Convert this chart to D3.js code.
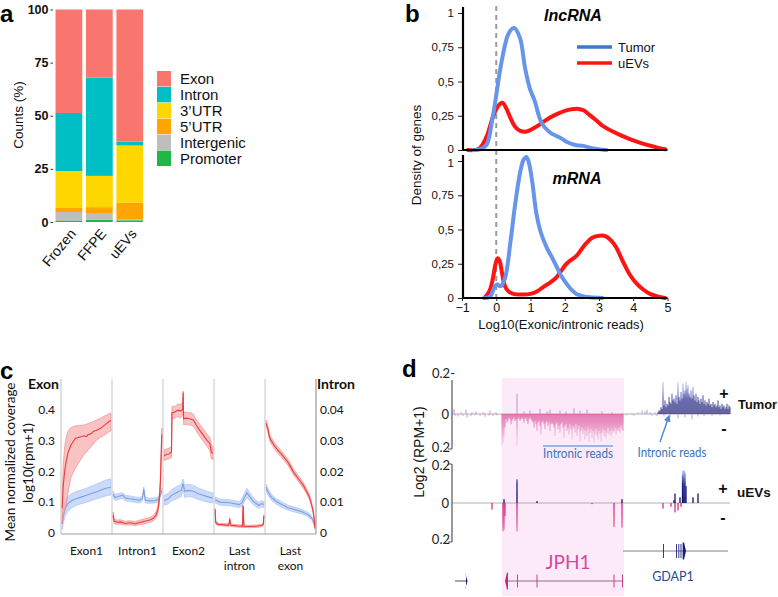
<!DOCTYPE html>
<html><head><meta charset="utf-8">
<script src="https://cdn.jsdelivr.net/npm/d3@7/dist/d3.min.js"></script>
<style>html,body{margin:0;padding:0;background:#fff;}svg{display:block;}</style>
</head><body>
<svg id="fig" width="778" height="597" xmlns="http://www.w3.org/2000/svg"></svg>
<script>
// ================= DATA =================
// ---- Panel a
const aCategories = ["Frozen", "FFPE", "uEVs"];
const aKeys = ["Promoter", "Intergenic", "5’UTR", "3’UTR", "Intron", "Exon"];
const aPromoter = [0.7, 1.0, 0.8];
const aIntergenic = [4.0, 2.9, 0.3];
const a5UTR = [1.9, 3.1, 8.0];
const a3UTR = [17.4, 14.7, 26.9];
const aIntron = [27.3, 46.3, 1.8];
const aExon = [48.7, 32.0, 62.2];
const aColors = ["#1DB848", "#BEBEBE", "#FFA500", "#FFD700", "#00BFC4", "#F8766D"];
const aYTicks = [0, 25, 50, 75, 100];
const aLegendOrder = ["Exon", "Intron", "3’UTR", "5’UTR", "Intergenic", "Promoter"];

// ---- Panel b
const bXTicks = [-1, 0, 1, 2, 3, 4, 5];
const bYTickValues = [0, 0.25, 0.5, 0.75, 1];
const bYTickLabels = ["0", "0,25", "0,5", "0,75", "1"];
const bLncTumorX = [-0.67,-0.48,-0.28,-0.13,0,0.16,0.36,0.52,0.69,0.84,0.98,1.12,1.32,1.56,1.9,2.05,2.34,2.54,2.83,3.22];
const bLncTumorY = [0,0.005,0.04,0.2,0.4,0.65,0.85,0.89,0.82,0.6,0.45,0.36,0.2,0.13,0.085,0.06,0.035,0.03,0.012,0];
const bLncEvX = [-0.83,-0.5,-0.28,-0.1,0.05,0.18,0.3,0.42,0.55,0.7,0.89,1.1,1.35,1.56,1.8,2.0,2.2,2.39,2.55,2.73,2.95,3.12,3.4,3.71,4.0,4.3,4.6,4.93];
const bLncEvY = [0,0.01,0.1,0.24,0.32,0.345,0.3,0.23,0.17,0.14,0.135,0.16,0.2,0.235,0.265,0.285,0.297,0.3,0.29,0.255,0.21,0.175,0.135,0.1,0.07,0.045,0.025,0.005];
const bMrnaTumorX = [-0.35,-0.18,-0.05,0.03,0.12,0.25,0.42,0.55,0.7,0.8,0.88,0.95,1.05,1.17,1.3,1.47,1.62,1.76,1.9,2.05,2.2,2.34,2.55,2.73,3.1];
const bMrnaTumorY = [0,0.01,0.08,0.1,0.085,0.14,0.42,0.68,0.92,1.01,1.03,0.99,0.85,0.62,0.48,0.37,0.3,0.23,0.16,0.105,0.06,0.03,0.012,0.005,0];
const bMrnaEvX = [-0.35,-0.2,-0.1,-0.02,0.04,0.1,0.17,0.25,0.35,0.5,0.7,1.0,1.2,1.37,1.56,1.76,1.9,2.05,2.2,2.35,2.5,2.63,2.8,3.02,3.2,3.35,3.5,3.71,3.9,4.1,4.3,4.49,4.7,4.93];
const bMrnaEvY = [0,0.05,0.14,0.25,0.29,0.27,0.18,0.09,0.05,0.03,0.025,0.03,0.05,0.08,0.11,0.15,0.2,0.25,0.28,0.31,0.36,0.4,0.44,0.455,0.45,0.42,0.37,0.26,0.17,0.105,0.06,0.03,0.012,0];

// ---- Panel c  (rows: [t within segment, mean, lower, upper]); exon segments on left axis, intron on right
const cSegments = ["Exon1", "Intron1", "Exon2", "Last intron", "Last exon"];
const cSegAxis = ["L", "R", "L", "R", "L"];
const cLeftTicks = [0, 0.1, 0.2, 0.3, 0.4];
const cRightTicks = [0, 0.01, 0.02, 0.03, 0.04];
const cRedExon1 = [[0,0.08,0.03,0.12],[0.02,0.15,0.05,0.22],[0.05,0.2,0.07,0.28],[0.08,0.23,0.09,0.31],[0.12,0.26,0.13,0.33],[0.18,0.285,0.18,0.342],[0.27,0.306,0.21,0.347],[0.35,0.31,0.23,0.348],[0.45,0.315,0.255,0.35],[0.5,0.312,0.262,0.352],[0.53,0.318,0.269,0.355],[0.6,0.322,0.28,0.358],[0.65,0.33,0.29,0.362],[0.7,0.332,0.3,0.366],[0.79,0.339,0.31,0.372],[0.88,0.35,0.318,0.38],[0.97,0.362,0.328,0.387],[1,0.364,0.33,0.388]];
const cRedIntron1 = [[0,0.0058,0.005,0.0068],[0.02,0.0038,0.003,0.0045],[0.08,0.0035,0.0028,0.0042],[0.15,0.0036,0.0029,0.0043],[0.25,0.0031,0.0025,0.0038],[0.35,0.0033,0.0026,0.004],[0.45,0.003,0.0024,0.0037],[0.55,0.0034,0.0027,0.0042],[0.65,0.0038,0.003,0.0046],[0.75,0.0042,0.0034,0.005],[0.82,0.0047,0.0038,0.0056],[0.88,0.0058,0.0048,0.0068],[0.92,0.0075,0.0065,0.0088],[0.95,0.011,0.0098,0.0125],[0.97,0.016,0.014,0.018],[0.985,0.024,0.022,0.026],[1,0.032,0.03,0.034]];
const cRedExon2 = [[0,0.25,0.235,0.27],[0.05,0.255,0.238,0.272],[0.1,0.256,0.24,0.275],[0.15,0.262,0.245,0.28],[0.16,0.39,0.37,0.41],[0.22,0.392,0.372,0.41],[0.28,0.398,0.378,0.418],[0.33,0.395,0.372,0.415],[0.38,0.4,0.38,0.425],[0.39,0.455,0.44,0.46],[0.4,0.37,0.35,0.39],[0.45,0.372,0.352,0.392],[0.52,0.37,0.35,0.39],[0.6,0.366,0.346,0.385],[0.65,0.352,0.333,0.37],[0.72,0.335,0.315,0.355],[0.8,0.318,0.298,0.338],[0.88,0.3,0.28,0.32],[0.94,0.29,0.268,0.31],[0.97,0.262,0.24,0.285],[1,0.258,0.238,0.28]];
const cRedLastIntron = [[0,0.0075,0.007,0.008],[0.01,0.0035,0.003,0.004],[0.05,0.0028,0.0024,0.0032],[0.15,0.0027,0.0023,0.0031],[0.28,0.0025,0.0021,0.0029],[0.3,0.0045,0.004,0.005],[0.32,0.0025,0.0021,0.0029],[0.45,0.0023,0.0019,0.0027],[0.56,0.0022,0.0018,0.0026],[0.575,0.0088,0.0085,0.009],[0.59,0.0022,0.0018,0.0026],[0.7,0.0021,0.0017,0.0025],[0.85,0.0022,0.0018,0.0026],[0.95,0.0024,0.002,0.0028],[0.99,0.0028,0.0024,0.0032],[1,0.0055,0.005,0.006]];
const cRedLastExon = [[0,0.355,0.345,0.365],[0.03,0.34,0.33,0.35],[0.07,0.31,0.3,0.32],[0.1,0.3,0.29,0.31],[0.16,0.285,0.275,0.295],[0.23,0.27,0.26,0.28],[0.3,0.258,0.248,0.268],[0.43,0.233,0.223,0.243],[0.5,0.215,0.205,0.225],[0.56,0.198,0.188,0.208],[0.62,0.185,0.176,0.195],[0.69,0.17,0.161,0.18],[0.76,0.155,0.146,0.164],[0.82,0.138,0.13,0.147],[0.88,0.12,0.112,0.128],[0.92,0.1,0.093,0.108],[0.96,0.075,0.068,0.082],[0.99,0.045,0.04,0.05],[1,0.02,0.016,0.024]];
const cBlueExon1 = [[0,0.03,0.01,0.05],[0.02,0.055,0.03,0.08],[0.06,0.08,0.055,0.1],[0.12,0.095,0.07,0.118],[0.2,0.105,0.082,0.128],[0.3,0.112,0.09,0.135],[0.4,0.117,0.095,0.14],[0.5,0.122,0.1,0.145],[0.6,0.128,0.105,0.152],[0.7,0.133,0.11,0.158],[0.8,0.139,0.115,0.165],[0.9,0.145,0.12,0.172],[1,0.148,0.123,0.175]];
const cBlueIntron1 = [[0,0.0125,0.0115,0.0135],[0.04,0.0115,0.0105,0.0125],[0.1,0.0118,0.0108,0.0128],[0.2,0.0122,0.0112,0.013],[0.25,0.0113,0.0104,0.0122],[0.35,0.0111,0.0102,0.012],[0.45,0.0108,0.0099,0.0117],[0.55,0.0106,0.0097,0.0115],[0.6,0.0112,0.0103,0.012],[0.63,0.0142,0.0135,0.015],[0.66,0.0106,0.0097,0.0115],[0.75,0.0104,0.0096,0.0113],[0.85,0.0105,0.0097,0.0114],[0.93,0.0108,0.01,0.0117],[0.97,0.0125,0.0117,0.0133],[1,0.0138,0.013,0.0146]];
const cBlueExon2 = [[0,0.105,0.09,0.122],[0.08,0.11,0.094,0.128],[0.15,0.122,0.104,0.14],[0.25,0.13,0.11,0.15],[0.35,0.138,0.118,0.158],[0.39,0.16,0.14,0.175],[0.42,0.135,0.115,0.155],[0.5,0.138,0.118,0.158],[0.6,0.135,0.115,0.155],[0.7,0.127,0.108,0.146],[0.8,0.122,0.104,0.14],[0.9,0.117,0.1,0.134],[1,0.113,0.097,0.13]];
const cBlueLastIntron = [[0,0.0107,0.0097,0.0117],[0.1,0.01,0.009,0.011],[0.3,0.0098,0.0088,0.0108],[0.5,0.0092,0.0082,0.0102],[0.55,0.0098,0.0086,0.011],[0.6,0.0115,0.0101,0.0129],[0.65,0.013,0.0115,0.0145],[0.7,0.012,0.0106,0.0134],[0.78,0.0103,0.0092,0.0114],[0.9,0.0089,0.0079,0.0099],[0.95,0.0095,0.0085,0.0105],[1,0.0092,0.0082,0.0102]];
const cBlueLastExon = [[0,0.148,0.138,0.158],[0.03,0.135,0.125,0.145],[0.1,0.117,0.107,0.127],[0.2,0.103,0.094,0.112],[0.3,0.094,0.085,0.103],[0.45,0.082,0.074,0.09],[0.6,0.075,0.067,0.083],[0.75,0.068,0.061,0.076],[0.88,0.058,0.051,0.065],[0.95,0.045,0.039,0.051],[0.99,0.028,0.023,0.033],[1,0.015,0.011,0.019]];
const cRed = [cRedExon1, cRedIntron1, cRedExon2, cRedLastIntron, cRedLastExon];
const cBlue = [cBlueExon1, cBlueIntron1, cBlueExon2, cBlueLastIntron, cBlueLastExon];

// ---- Panel d  (genomic positions in arbitrary kb units, values in log2(RPM+1))
const dDomain = [0, 278];
const dJph1Region = [49.7, 172];
const dTumorMinusStart = 50;
const dTumorMinus = [0.19,0.17,0.13,0.08,
 0.03,0.05,0.04,0.02,0.03,0.06,0.04,0.03,0.02,0.04,0.03,
 0.19,
 0.03,0.02,0.04,0.03,0.02,0.03,0.05,0.03,0.02,0.04,0.06,0.03,0.02,0.03,0.04,
 0.05,0.08,0.04,0.06,0.10,0.05,0.04,0.07,0.12,0.05,0.04,0.06,0.09,0.05,0.04,0.07,0.05,0.10,0.06,0.05,
 0.06,0.08,0.13,0.06,0.05,0.09,0.07,0.11,0.06,0.05,0.08,0.14,0.07,0.06,0.10,0.08,0.12,0.06,0.09,0.15,0.07,0.08,0.11,0.06,0.13,0.09,0.07,0.16,0.10,0.08,
 0.12,0.09,0.15,0.10,0.13,0.08,0.16,0.11,0.09,0.14,0.10,0.17,0.12,0.09,0.13,0.15,0.10,0.12,0.16,0.11,0.09,0.13,0.10,0.14,0.11,0.08,0.12,0.10,0.13,0.09,0.11,0.10,0.08,0.12,0.09,0.10,0.08,0.11,0.07,0.09,0.10];
const dTumorPlusStart = 206;
const dTumorPlus = [0.01,0.02,0.02,0.04,0.03,0.19,0.05,0.08,0.04,0.06,
 0.05,0.10,0.07,0.06,0.12,0.08,0.09,0.07,0.11,0.06,0.19,0.10,0.08,0.13,0.09,
 0.18,0.12,0.14,0.19,0.15,0.17,0.12,0.10,0.14,0.09,0.16,0.11,0.08,0.12,0.07,
 0.10,0.08,0.06,0.09,0.07,0.11,0.06,0.08,0.05,0.07,0.06,0.09,0.05,0.06,0.04,
 0.07,0.05,0.06,0.04,0.05,0.08,0.04,0.05,0.03,0.06,0.04,0.05,0.03,0.04,0.06,0.03,0.05,0.04];
const dTumorPlusSparse = [[2,0.03],[9,0.01],[14,0.025],[20,0.01],[24,0.015],[31,0.01],[38,0.02],[44,0.01],[65,0.12],[72,0.015],[78,0.02],[88,0.03],[95,0.015],[98,0.025],[108,0.02],[114,0.015],[122,0.035],[128,0.02],[135,0.025],[150,0.015],[160,0.01],[180,0.006],[186,0.01],[190,0.02],[193,0.015],[195,0.025],[198,0.01],[203,0.01]];
const dTumorMinusSparse = [[3,0.01],[6,0.015],[11,0.01],[15,0.02],[19,0.012],[23,0.008],[28,0.01],[33,0.015],[37,0.01],[41,0.012],[45,0.008],[175,0.008],[182,0.01],[200,0.01],[205,0.012],[212,0.015],[218,0.02],[226,0.025],[233,0.02],[240,0.03],[246,0.015],[252,0.012],[260,0.01],[268,0.008]];
const dEvPlus = [[52,0.02],[65,0.125],[85,0.01],[170,0.02],[222,0.015],[223,0.05],[228,0.03],[230.5,0.15],[231,0.17],[232,0.17],[233,0.16],[234,0.09],[241,0.03],[246,0.05]];
const dEvMinus = [[40,0.035],[51,0.15],[52,0.14],[53,0.07],[65,0.15],[140,0.006],[162,0.127],[170,0.13],[211,0.03],[219,0.02],[223,0.05],[226,0.04],[229,0.02]];
const dJph1Span = [53, 171];
const dJph1Exons = [[53, 56], [65, 66], [84.5, 85.5], [161.5, 162.5], [170, 171]];
const dGdap1Span = [171, 276];
const dGdap1Exons = [[211, 212], [224, 224.8], [226.3, 227], [228.5, 229.3], [230.7, 234]];
const dLeftGeneSpan = [3, 15];
const dLeftGeneExons = [[14, 15.5]];

// ================= DRAW =================
const SANS = "'Liberation Sans', Arial, Helvetica, sans-serif";
const CAL = "Lato, 'Open Sans', sans-serif";
const svg = d3.select("#fig");
svg.append("rect").attr("width", 778).attr("height", 597).attr("fill", "#fff");
const defs = svg.append("defs");

function panelLabel(t, x, y) {
  svg.append("text").attr("x", x).attr("y", y).text(t)
    .attr("font-family", SANS).attr("font-weight", "bold").attr("font-size", 24).attr("fill", "#000");
}

// ---------- Panel a ----------
{
  const g = svg.append("g");
  const rows = aCategories.map((c, i) => ({
    cat: c, "Promoter": aPromoter[i], "Intergenic": aIntergenic[i], "5’UTR": a5UTR[i],
    "3’UTR": a3UTR[i], "Intron": aIntron[i], "Exon": aExon[i]
  }));
  const x = d3.scaleBand().domain(aCategories).range([53.7, 145]).paddingInner(0.12).paddingOuter(0.06);
  const y = d3.scaleLinear().domain([0, 100]).range([222, 9.5]);
  const color = d3.scaleOrdinal().domain(aKeys).range(aColors);
  const series = d3.stack().keys(aKeys)(rows);
  g.selectAll("g.s").data(series).join("g").attr("fill", d => color(d.key))
    .selectAll("rect").data(d => d).join("rect")
    .attr("x", d => x(d.data.cat)).attr("width", x.bandwidth())
    .attr("y", d => y(d[1])).attr("height", d => y(d[0]) - y(d[1]));
  const ax = g.append("g").attr("transform", "translate(53,0)")
    .call(d3.axisLeft(y).tickValues(aYTicks).tickSize(2.5).tickPadding(2));
  ax.select(".domain").remove();
  ax.selectAll("line").attr("stroke", "#333");
  ax.selectAll("text").attr("font-family", SANS).attr("font-weight", "bold").attr("font-size", 12.5).attr("fill", "#111");
  g.append("text").attr("transform", "translate(23,115) rotate(-90)").attr("text-anchor", "middle")
    .attr("font-family", SANS).attr("font-size", 13.5).attr("fill", "#111").text("Counts (%)");
  aCategories.forEach(c => {
    g.append("text").attr("transform", `translate(${x(c) + x.bandwidth() / 2 + 4},231) rotate(-50)`)
      .attr("text-anchor", "end").attr("dy", "0.35em")
      .attr("font-family", SANS).attr("font-size", 14).attr("fill", "#111").text(c);
  });
  const lg = g.append("g");
  const ly = d3.scaleBand().domain(aLegendOrder).range([70.5, 166.5]).padding(0.03);
  aLegendOrder.forEach(k => {
    lg.append("rect").attr("x", 157).attr("y", ly(k)).attr("width", 14).attr("height", ly.bandwidth()).attr("fill", color(k));
    lg.append("text").attr("x", 180).attr("y", ly(k) + ly.bandwidth() / 2).attr("dy", "0.36em")
      .attr("font-family", SANS).attr("font-size", 15).attr("fill", "#111").text(k);
  });
  panelLabel("a", 0, 22);
}

// ---------- Panel b ----------
{
  const g = svg.append("g");
  const x = d3.scaleLinear().domain([-1, 5]).range([462, 667.5]);
  const yTop = d3.scaleLinear().domain([0, 1]).range([150, 13]);
  const yBot = d3.scaleLinear().domain([0, 1]).range([298, 161]);
  const blue = "#6695EA", red = "#FF1414";
  g.append("line").attr("x1", x(0)).attr("x2", x(0)).attr("y1", 6).attr("y2", 298)
    .attr("stroke", "#9a9a9a").attr("stroke-width", 2).attr("stroke-dasharray", "5,4");
  const mk = (xs, ys) => xs.map((v, i) => [v, ys[i]]);
  const line = sc => d3.line().x(d => x(d[0])).y(d => sc(d[1])).curve(d3.curveCatmullRom.alpha(0.5));
  [[bLncEvX, bLncEvY, yTop, red], [bLncTumorX, bLncTumorY, yTop, blue],
   [bMrnaEvX, bMrnaEvY, yBot, red], [bMrnaTumorX, bMrnaTumorY, yBot, blue]].forEach(([xs, ys, sc, col]) => {
    g.append("path").datum(mk(xs, ys)).attr("d", line(sc)).attr("fill", "none")
      .attr("stroke", col).attr("stroke-width", 4).attr("stroke-linejoin", "round").attr("stroke-linecap", "round");
  });
  [[yTop, 7, "top"], [yBot, 155, "bot"]].forEach(([sc, top, which]) => {
    const ay = g.append("g").attr("transform", `translate(${x(-1) + 1},0)`)
      .call(d3.axisLeft(sc).tickValues(bYTickValues).tickFormat((d, i) => bYTickLabels[i]).tickSize(5).tickPadding(4));
    ay.select(".domain").remove();
    ay.selectAll("line").attr("stroke", "#222");
    ay.selectAll("text").attr("font-family", SANS).attr("font-size", 11.5).attr("fill", "#111");
    if (which === "top") ay.selectAll("text").filter(d => d === 0).attr("dy", "0.2em");
    if (which === "bot") ay.selectAll("text").filter(d => d === 1).attr("dy", "0.5em");
    g.append("line").attr("x1", x(-1) + 1).attr("x2", x(-1) + 1).attr("y1", top).attr("y2", sc(0) + 1)
      .attr("stroke", "#000").attr("stroke-width", 2.2);
    g.append("line").attr("x1", x(-1)).attr("x2", x(5)).attr("y1", sc(0)).attr("y2", sc(0))
      .attr("stroke", "#000").attr("stroke-width", 2.2);
  });
  const axx = g.append("g").attr("transform", `translate(0,${yBot(0)})`)
    .call(d3.axisBottom(x).tickValues(bXTicks).tickSize(3).tickPadding(2).tickFormat(d3.format("d")));
  axx.select(".domain").remove();
  axx.selectAll("line").attr("stroke", "#222");
  axx.selectAll("text").attr("font-family", SANS).attr("font-size", 12.5).attr("fill", "#111");
  g.append("text").attr("x", 561).attr("y", 329).attr("text-anchor", "middle")
    .attr("font-family", SANS).attr("font-size", 13).attr("fill", "#111").text("Log10(Exonic/intronic reads)");
  g.append("text").attr("transform", "translate(421,155) rotate(-90)").attr("text-anchor", "middle")
    .attr("font-family", SANS).attr("font-size", 13.5).attr("fill", "#111").text("Density of genes");
  g.append("text").attr("x", 573).attr("y", 21).attr("text-anchor", "middle").attr("font-family", SANS)
    .attr("font-weight", "bold").attr("font-style", "italic").attr("font-size", 16).text("lncRNA");
  g.append("text").attr("x", 577).attr("y", 184).attr("text-anchor", "middle").attr("font-family", SANS)
    .attr("font-weight", "bold").attr("font-style", "italic").attr("font-size", 16).text("mRNA");
  [["Tumor", "#3F78C8", 47], ["uEVs", red, 63]].forEach(([t, c, yy]) => {
    g.append("line").attr("x1", 577).attr("x2", 612).attr("y1", yy).attr("y2", yy).attr("stroke", c).attr("stroke-width", 3.5);
    g.append("text").attr("x", 618).attr("y", yy).attr("dy", "0.36em").attr("font-family", SANS)
      .attr("font-size", 13).attr("fill", "#111").text(t);
  });
  panelLabel("b", 405, 22);
}

// ---------- Panel c ----------
{
  const g = svg.append("g");
  const x = d3.scaleBand().domain(cSegments).range([61, 316]);
  const yL = d3.scaleLinear().domain([0, 0.4]).range([533, 409.5]);
  const yR = d3.scaleLinear().domain([0, 0.04]).range([533, 409.5]);
  const top = 379;
  cSegments.forEach((s, i) => {
    if (i > 0) g.append("line").attr("x1", x(s)).attr("x2", x(s)).attr("y1", top).attr("y2", 534)
      .attr("stroke", "#d4d4d4").attr("stroke-width", 1.3);
  });
  g.append("line").attr("x1", 61).attr("x2", 61).attr("y1", top).attr("y2", 534).attr("stroke", "#d0d0d0").attr("stroke-width", 1.3);
  g.append("line").attr("x1", 316).attr("x2", 316).attr("y1", top).attr("y2", 534).attr("stroke", "#9a9a9a").attr("stroke-width", 1.2);
  g.append("line").attr("x1", 61).attr("x2", 316).attr("y1", 534).attr("y2", 534).attr("stroke", "#a0a0a0").attr("stroke-width", 1.2);
  const draw = (data, seg, axis, lineCol, bandCol, bandStroke) => {
    const sc = axis === "L" ? yL : yR;
    const px = t => x(seg) + 1.2 + t * (x.bandwidth() - 2.4);
    g.append("path").datum(data).attr("d", d3.area().x(d => px(d[0])).y0(d => sc(d[2])).y1(d => sc(d[3])))
      .attr("fill", bandCol).attr("stroke", bandStroke).attr("stroke-width", 0.6);
    g.append("path").datum(data).attr("d", d3.line().x(d => px(d[0])).y(d => sc(d[1])))
      .attr("fill", "none").attr("stroke", lineCol).attr("stroke-width", 1.1);
  };
  cSegments.forEach((s, i) => {
    draw(cBlue[i], s, cSegAxis[i], "#7C9FE6", "rgba(185,205,245,0.75)", "rgba(160,185,238,0.9)");
    draw(cRed[i], s, cSegAxis[i], "#EC3A3E", "rgba(247,170,170,0.7)", "rgba(240,120,120,0.9)");
  });
  cLeftTicks.forEach(v => g.append("text").attr("x", 55).attr("y", yL(v)).attr("dy", "0.36em").attr("text-anchor", "end")
    .attr("font-family", CAL).attr("font-size", 12).attr("fill", "#111").text(v === 0 ? "0" : v.toFixed(1)));
  cRightTicks.forEach(v => g.append("text").attr("x", 320).attr("y", yR(v)).attr("dy", "0.36em")
    .attr("font-family", CAL).attr("font-size", 12).attr("fill", "#111").text(v === 0 ? "0" : v.toFixed(2)));
  g.append("text").attr("x", 28).attr("y", 384).attr("dy", "0.36em").attr("font-family", CAL).attr("font-weight", "bold")
    .attr("font-size", 14).attr("fill", "#111").text("Exon");
  g.append("text").attr("x", 317).attr("y", 384).attr("dy", "0.36em").attr("font-family", CAL).attr("font-weight", "bold")
    .attr("font-size", 14).attr("fill", "#111").text("Intron");
  cSegments.forEach(s => {
    s.split(" ").forEach((w, j) => {
      g.append("text").attr("x", x(s) + x.bandwidth() / 2).attr("y", 551 + j * 15).attr("dy", "0.36em")
        .attr("text-anchor", "middle").attr("font-family", CAL).attr("font-size", 12).attr("fill", "#111").text(w);
    });
  });
  g.append("text").attr("transform", "translate(15,462) rotate(-90)").attr("text-anchor", "middle")
    .attr("font-family", CAL).attr("font-size", 13.5).attr("fill", "#111").text("Mean normalized coverage");
  g.append("text").attr("transform", "translate(33,463) rotate(-90)").attr("text-anchor", "middle")
    .attr("font-family", CAL).attr("font-size", 13.5).attr("fill", "#111").text("log10(rpm+1)");
  panelLabel("c", 0, 379);
}

// ---------- Panel d ----------
{
  const g = svg.append("g");
  const x = d3.scaleLinear().domain(dDomain).range([452, 730]);
  const yT = d3.scaleLinear().domain([-0.2, 0.2]).range([448, 380]);
  const yE = d3.scaleLinear().domain([-0.2, 0.2]).range([541, 465]);
  g.append("rect").attr("x", x(dJph1Region[0])).attr("width", x(dJph1Region[1]) - x(dJph1Region[0]))
    .attr("y", 378).attr("height", 218).attr("fill", "#FCEAF8");
  const grad = (id, y0, y1, stops) => {
    const lg = defs.append("linearGradient").attr("id", id).attr("gradientUnits", "userSpaceOnUse")
      .attr("x1", 0).attr("x2", 0).attr("y1", y0).attr("y2", y1);
    stops.forEach(([o, c]) => lg.append("stop").attr("offset", o).attr("stop-color", c));
  };
  grad("tPlus", yT(0), yT(0.2), [[0, "#0c0c66"], [0.45, "#181b86"], [0.7, "#6e73c6"], [1, "#c9cbee"]]);
  grad("tMinus", yT(0), yT(-0.2), [[0, "#cc1a76"], [0.25, "#da3d90"], [0.6, "#ea90c2"], [1, "#f6c6e1"]]);
  grad("ePlus", yE(0), yE(0.2), [[0, "#0c0c66"], [0.5, "#1f228c"], [0.75, "#8c90d4"], [1, "#c5c8ee"]]);
  grad("eMinus", yE(0), yE(-0.2), [[0, "#d4267f"], [0.5, "#e0509c"], [1, "#f3b6d8"]]);
  const bars = (data, sc, sign, fill, w, op) => {
    g.append("g").attr("opacity", op).selectAll("rect").data(data).join("rect")
      .attr("x", d => x(d[0]) - w / 2).attr("width", w)
      .attr("y", d => sign > 0 ? sc(d[1]) : sc(0))
      .attr("height", d => Math.abs(sc(d[1]) - sc(0)))
      .attr("fill", fill);
  };
  const dense = (start, arr) => arr.map((v, i) => [start + i, v]);
  g.append("line").attr("x1", x(0)).attr("x2", x(278)).attr("y1", yT(0)).attr("y2", yT(0)).attr("stroke", "#b0b0b0").attr("stroke-width", 1);
  g.append("line").attr("x1", x(0)).attr("x2", x(278)).attr("y1", yE(0)).attr("y2", yE(0)).attr("stroke", "#b0b0b0").attr("stroke-width", 1);
  bars(dense(dTumorMinusStart, dTumorMinus), yT, -1, "url(#tMinus)", 0.75, 0.85);
  bars(dTumorMinusSparse, yT, -1, "#e88cbf", 1, 1);
  bars(dense(dTumorPlusStart, dTumorPlus), yT, 1, "url(#tPlus)", 0.85, 0.95);
  bars(dTumorPlusSparse, yT, 1, "#9da0dc", 1, 1);
  bars(dEvMinus, yE, -1, "url(#eMinus)", 1.3, 1);
  bars(dEvPlus, yE, 1, "url(#ePlus)", 1.3, 1);
  g.append("line").attr("x1", 452).attr("x2", 452).attr("y1", 380).attr("y2", 449).attr("stroke", "#555").attr("stroke-width", 1.2);
  g.append("line").attr("x1", 452).attr("x2", 452).attr("y1", 464).attr("y2", 542).attr("stroke", "#555").attr("stroke-width", 1.2);
  g.append("line").attr("x1", 448).attr("x2", 452).attr("y1", 449).attr("y2", 449).attr("stroke", "#555");
  g.append("line").attr("x1", 448).attr("x2", 452).attr("y1", 542).attr("y2", 542).attr("stroke", "#555");
  g.append("line").attr("x1", 448).attr("x2", 452).attr("y1", 464).attr("y2", 464).attr("stroke", "#555");
  const tl = (t, xx, yy) => g.append("text").attr("x", xx).attr("y", yy).attr("dy", "0.36em").attr("text-anchor", "end")
    .attr("font-family", CAL).attr("font-size", 13).attr("fill", "#222").text(t);
  tl("0.2-", 455, 373); tl("0", 449, yT(0)); tl("0.2", 450, 447);
  tl("0.2", 450, 465); tl("0", 449, yE(0)); tl("0.2", 450, 539);
  g.append("text").attr("transform", "translate(424,452) rotate(-90)").attr("text-anchor", "middle")
    .attr("font-family", SANS).attr("font-size", 14).attr("fill", "#111").text("Log2 (RPM+1)");
  const sym = (t, xx, yy) => g.append("text").attr("x", xx).attr("y", yy).attr("dy", "0.36em").attr("text-anchor", "middle")
    .attr("font-family", SANS).attr("font-weight", "bold").attr("font-size", 16).attr("fill", "#111").text(t);
  sym("+", 724, 393); sym("-", 724, 428); sym("+", 723, 488); sym("-", 723, 517);
  g.append("text").attr("x", 738).attr("y", 404).attr("dy", "0.36em").attr("font-family", SANS).attr("font-weight", "bold")
    .attr("font-size", 13.5).attr("textLength", 39).attr("lengthAdjust", "spacingAndGlyphs").attr("fill", "#111").text("Tumor");
  g.append("text").attr("x", 737).attr("y", 492).attr("dy", "0.36em").attr("font-family", SANS).attr("font-weight", "bold")
    .attr("font-size", 13.5).attr("fill", "#111").text("uEVs");
  const ann = "#3d74b8";
  g.append("line").attr("x1", 543).attr("x2", 613).attr("y1", 446).attr("y2", 446).attr("stroke", "#7aa6dc").attr("stroke-width", 1.6);
  g.append("text").attr("x", 543).attr("y", 453.5).attr("dy", "0.36em").attr("font-family", CAL).attr("font-size", 12.5)
    .attr("fill", ann).attr("textLength", 70).attr("lengthAdjust", "spacingAndGlyphs").text("Intronic reads");
  g.append("text").attr("x", 637.5).attr("y", 452.5).attr("dy", "0.36em").attr("font-family", CAL).attr("font-size", 12.5)
    .attr("fill", ann).attr("textLength", 69).attr("lengthAdjust", "spacingAndGlyphs").text("Intronic reads");
  defs.append("marker").attr("id", "arr").attr("viewBox", "0 0 10 10").attr("refX", 8).attr("refY", 5)
    .attr("markerWidth", 5).attr("markerHeight", 5).attr("orient", "auto")
    .append("path").attr("d", "M0,0L10,5L0,10z").attr("fill", "#4a8ad6");
  g.append("line").attr("x1", 660).attr("y1", 442).attr("x2", 669).attr("y2", 416)
    .attr("stroke", "#4a8ad6").attr("stroke-width", 1.4).attr("marker-end", "url(#arr)");
  const gene = (span, exons, yy, lineCol, exCol, arrowDir, arrowIdx, bigH, smallH) => {
    g.append("line").attr("x1", x(span[0])).attr("x2", x(span[1])).attr("y1", yy).attr("y2", yy).attr("stroke", lineCol).attr("stroke-width", 1.2);
    exons.forEach((e, i) => {
      const x0 = x(e[0]), x1 = x(e[1]);
      if (i === arrowIdx) {
        const h = bigH / 2;
        const p = arrowDir < 0
          ? `M${x0},${yy}L${x0 + 2},${yy - h}L${x1},${yy - h}L${x1},${yy + h}L${x0 + 2},${yy + h}Z`
          : `M${x1},${yy}L${x1 - 2},${yy - h}L${x0},${yy - h}L${x0},${yy + h}L${x1 - 2},${yy + h}Z`;
        g.append("path").attr("d", p).attr("fill", exCol);
      } else {
        g.append("rect").attr("x", x0).attr("width", Math.max(1, x1 - x0)).attr("y", yy - smallH / 2).attr("height", smallH).attr("fill", exCol).attr("opacity", 0.85);
      }
    });
  };
  gene(dGdap1Span, dGdap1Exons, 551, "#808080", "#16197a", 1, 4, 17, 14);
  gene(dJph1Span, dJph1Exons, 581, "#9a6a8a", "#c02c80", -1, 0, 17, 13);
  gene(dLeftGeneSpan, dLeftGeneExons, 581, "#6a6a8a", "#16197a", 1, 0, 14, 12);
  g.append("text").attr("x", 568).attr("y", 562).attr("dy", "0.36em").attr("text-anchor", "middle")
    .attr("font-family", CAL).attr("font-size", 19).attr("fill", "#d5489f").text("JPH1");
  g.append("text").attr("x", 673).attr("y", 576).attr("dy", "0.36em").attr("text-anchor", "middle")
    .attr("font-family", CAL).attr("font-size", 12.5).attr("fill", "#1f4c8c").text("GDAP1");
  panelLabel("d", 402, 377);
}
</script></body></html>
